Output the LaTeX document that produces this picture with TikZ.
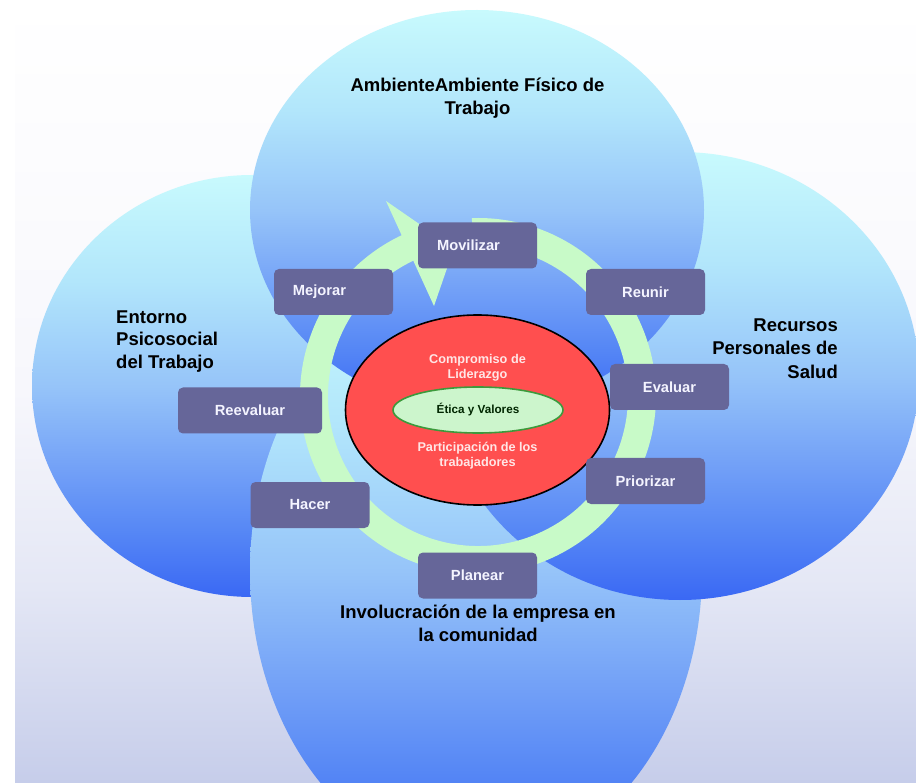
\documentclass[tikz,border=0pt]{standalone}
\usepackage{fontspec}
\setmainfont{Liberation Sans}
\usetikzlibrary{shapes.geometric}
\definecolor{cT}{HTML}{C8FAFD}
\definecolor{cQ}{HTML}{B2E6FB}
\definecolor{cM}{HTML}{96C4F9}
\definecolor{cL}{HTML}{72A0F7}
\definecolor{cD}{HTML}{5586F5}
\definecolor{cB}{HTML}{3A68F4}
\definecolor{bgM}{HTML}{F7F7FC}
\definecolor{bgL}{HTML}{E4E7F5}
\definecolor{bgB}{HTML}{C6CDEA}
\definecolor{boxc}{HTML}{666699}
\definecolor{boxt}{HTML}{F4F4FF}
\definecolor{redE}{HTML}{FF4F4F}
\definecolor{redT}{HTML}{FFE6E6}
\definecolor{greenE}{HTML}{CCF5CC}
\definecolor{greenB}{HTML}{3C9A3C}
\definecolor{ringc}{HTML}{C8FAC8}
\pgfdeclareverticalshading{blobshade}{100bp}{color(0bp)=(cB); color(25bp)=(cB); color(32.5bp)=(cD); color(40bp)=(cL); color(50bp)=(cM); color(62.5bp)=(cQ); color(75bp)=(cT); color(100bp)=(cT)}
\pgfdeclareverticalshading{bgshade}{100bp}{color(0bp)=(bgB); color(25bp)=(bgB); color(37.5bp)=(bgL); color(50bp)=(bgM); color(75bp)=(white); color(100bp)=(white)}
\begin{document}
\begin{tikzpicture}[x=1pt,y=-1pt,
  stepbox/.style={rounded corners=5pt, fill=boxc, text=boxt,
    font=\fontsize{14.7}{16}\selectfont\bfseries,
    minimum width=119pt, minimum height=46pt, inner sep=0pt},
  blob/.style={shading=blobshade},
  title/.style={font=\fontsize{18.5}{23}\selectfont\bfseries, text=black, inner sep=0pt},
  coretext/.style={font=\fontsize{12.7}{15}\selectfont\bfseries, text=redT, inner sep=0pt, align=center},
  ringline/.style={draw=ringc, line width=28pt, line cap=butt}
]
\useasboundingbox (0,0) rectangle (916,783);
\fill[white] (0,0) rectangle (916,783);
\shade[shading=bgshade] (15,0) rectangle (916,783);
% four overlapping fields
\shade[blob] (252,386) ellipse [x radius=220, y radius=211];
\shade[blob] (476,571) ellipse [x radius=226, y radius=292];
\shade[blob] (680,376) ellipse [x radius=239, y radius=224];
\shade[blob] (477,210) ellipse [x radius=227, y radius=200];
% cycle arrow
\coordinate (rc) at (478,396);
\draw[ringline] (rc) ++(-115:164) arc[start angle=-115, end angle=-452, radius=164];
\coordinate (h1) at (386,201);
\coordinate (h2) at (454,248);
\coordinate (h3) at (434,306);
\fill[ringc] (h1) -- (h2) -- (h3) -- cycle;
% core
\node[ellipse, draw=black, line width=1.6pt, fill=redE, minimum width=264pt, minimum height=190pt, inner sep=0pt] (core) at (477.5,410) {};
\node[ellipse, draw=greenB, line width=1.6pt, fill=greenE, minimum width=170pt, minimum height=46pt, inner sep=0pt,
  font=\fontsize{11.7}{13}\selectfont\bfseries, text=black!85!green] (etica) at (478,410) {Ética y Valores};
\node[coretext] (lid) at (477.5,367.5) {Compromiso de\\Liderazgo};
\node[coretext] (part) at (477.5,455.5) {Participación de los\\trabajadores};
% steps
\node[stepbox] (movilizar) at (477.5,245.5) {Movilizar\hspace*{18pt}};
\node[stepbox] (mejorar) at (333.5,292) {Mejorar\hspace*{28pt}};
\node[stepbox] (reunir) at (645.5,292) {Reunir};
\node[stepbox] (evaluar) at (669.5,387) {Evaluar};
\node[stepbox] (priorizar) at (645.5,481) {Priorizar};
\node[stepbox] (planear) at (477.5,575.5) {Planear};
\node[stepbox] (hacer) at (310,505) {Hacer};
\node[stepbox, minimum width=144pt] (reevaluar) at (250,410.5) {Reevaluar};
% field titles
\node[title, align=center] (tfis) at (477.5,98.5) {AmbienteAmbiente Físico de\\Trabajo};
\node[title, align=left, anchor=west, font=\fontsize{18.5}{22.5}\selectfont\bfseries] (tpsi) at (116,341.5) {Entorno\\Psicosocial\\del Trabajo};
\node[title, align=right, anchor=east, font=\fontsize{18.5}{23.5}\selectfont\bfseries] (trec) at (838,348.5) {Recursos\\Personales de\\Salud};
\node[title, align=center] (tinv) at (478,623) {Involucración de la empresa en\\la comunidad};
\end{tikzpicture}
\end{document}
